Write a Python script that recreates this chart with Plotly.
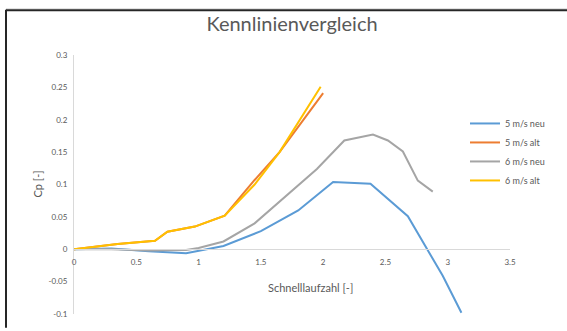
import plotly.graph_objects as go

# ---- data ----
x_5_neu = [0, 0.3, 0.6, 0.9, 1.2, 1.5, 1.8, 2.08, 2.38, 2.68, 2.96, 3.11]
y_5_neu = [0, 0.001, -0.003, -0.006, 0.005, 0.028, 0.06, 0.104, 0.101, 0.051, -0.041, -0.098]

x_5_alt = [0, 0.35, 0.65, 0.75, 0.97, 1.21, 1.45, 1.65, 2.0]
y_5_alt = [0, 0.008, 0.013, 0.027, 0.035, 0.052, 0.107, 0.15, 0.241]

x_6_neu = [0, 0.3, 0.6, 0.9, 1.0, 1.2, 1.45, 1.7, 1.95, 2.17, 2.4, 2.52, 2.64, 2.76, 2.88]
y_6_neu = [0, 0.0, -0.002, -0.001, 0.002, 0.012, 0.04, 0.082, 0.124, 0.168, 0.177, 0.168, 0.151, 0.106, 0.089]

x_6_alt = [0, 0.35, 0.65, 0.75, 0.97, 1.21, 1.45, 1.65, 1.98]
y_6_alt = [0, 0.008, 0.013, 0.027, 0.035, 0.052, 0.1, 0.15, 0.251]

series_names = ["5 m/s neu", "5 m/s alt", "6 m/s neu", "6 m/s alt"]
series_colors = ["#5B9BD5", "#ED7D31", "#A5A5A5", "#FFC000"]

y_tickvals = [0.3, 0.25, 0.2, 0.15, 0.1, 0.05, 0, -0.05, -0.1]
y_ticktext = ["0.3", "0.25", "0.2", "0.15", "0.1", "0.05", "0", "-0.05", "-0.1"]
x_tickvals = [0, 0.5, 1, 1.5, 2, 2.5, 3, 3.5]
x_ticktext = ["0", "0.5", "1", "1.5", "2", "2.5", "3", "3.5"]

title_text = "Kennlinienvergleich"
x_title = "Schnelllaufzahl [-]"
y_title = "Cp [-]"

# ---- figure ----
W, H = 567, 331
L, R, T, B = 74, 57, 55, 12
pw, ph = W - L - R, H - T - B

def px_x(px):
    return (px - L) / pw

def px_y(py):
    return (H - B - py) / ph

FONT = "Lato, 'Open Sans', sans-serif"
GREY = "#595959"

fig = go.Figure()
xs = [x_5_neu, x_5_alt, x_6_neu, x_6_alt]
ys = [y_5_neu, y_5_alt, y_6_neu, y_6_alt]
for xv, yv, n, c in zip(xs, ys, series_names, series_colors):
    fig.add_trace(go.Scatter(x=xv, y=yv, mode="lines", name=n,
                             line=dict(color=c, width=2)))

fig.update_layout(
    width=W, height=H,
    margin=dict(l=L, r=R, t=T, b=B),
    paper_bgcolor="white", plot_bgcolor="white",
    font=dict(family=FONT, color=GREY),
    title=dict(text=title_text, x=0.5, xref="paper", xanchor="center",
               y=1 - 24 / H, yref="container", yanchor="middle",
               font=dict(family=FONT, size=20, color=GREY)),
    xaxis=dict(range=[0, 3.5], anchor="free", position=0.25,
               showgrid=False, zeroline=False, showline=True,
               linecolor="#D9D9D9", linewidth=1,
               tickvals=x_tickvals, ticktext=x_ticktext,
               tickfont=dict(size=8, color=GREY),
               ticks="outside", ticklen=5, tickcolor="rgba(0,0,0,0)"),
    yaxis=dict(range=[-0.1, 0.3], showgrid=False, zeroline=False,
               showline=True, linecolor="#D9D9D9", linewidth=1,
               tickvals=y_tickvals, ticktext=y_ticktext,
               tickfont=dict(size=8, color=GREY),
               ticks="outside", ticklen=4, tickcolor="rgba(0,0,0,0)"),
    legend=dict(x=px_x(465), y=px_y(110), xanchor="left", yanchor="top",
                font=dict(size=9, color=GREY), bgcolor="rgba(0,0,0,0)",
                itemwidth=30),
    showlegend=True,
)

fig.add_annotation(text=x_title, x=px_x(310), y=px_y(292), xref="paper", yref="paper",
                   showarrow=False, xanchor="center", yanchor="middle",
                   font=dict(size=11, color=GREY, family=FONT))
fig.add_annotation(text=y_title, x=px_x(37), y=0.5, xref="paper", yref="paper",
                   showarrow=False, textangle=-90, xanchor="center", yanchor="middle",
                   font=dict(size=11, color=GREY, family=FONT))

# frame of the screenshot
fig.add_shape(type="line", xref="paper", yref="paper",
              x0=px_x(6), x1=px_x(W + 2), y0=px_y(8), y1=px_y(8),
              line=dict(color="#D0D0D0", width=1))
fig.add_shape(type="line", xref="paper", yref="paper",
              x0=px_x(6), x1=px_x(W + 2), y0=px_y(9.5), y1=px_y(9.5),
              line=dict(color="#262626", width=2))
fig.add_shape(type="line", xref="paper", yref="paper",
              x0=px_x(6), x1=px_x(6), y0=px_y(9), y1=px_y(H + 2),
              line=dict(color="#262626", width=2))

fig.write_html("out.html",
               config={"displayModeBar": False},
               post_script="document.body.style.margin='0';document.body.style.overflow='hidden';")
